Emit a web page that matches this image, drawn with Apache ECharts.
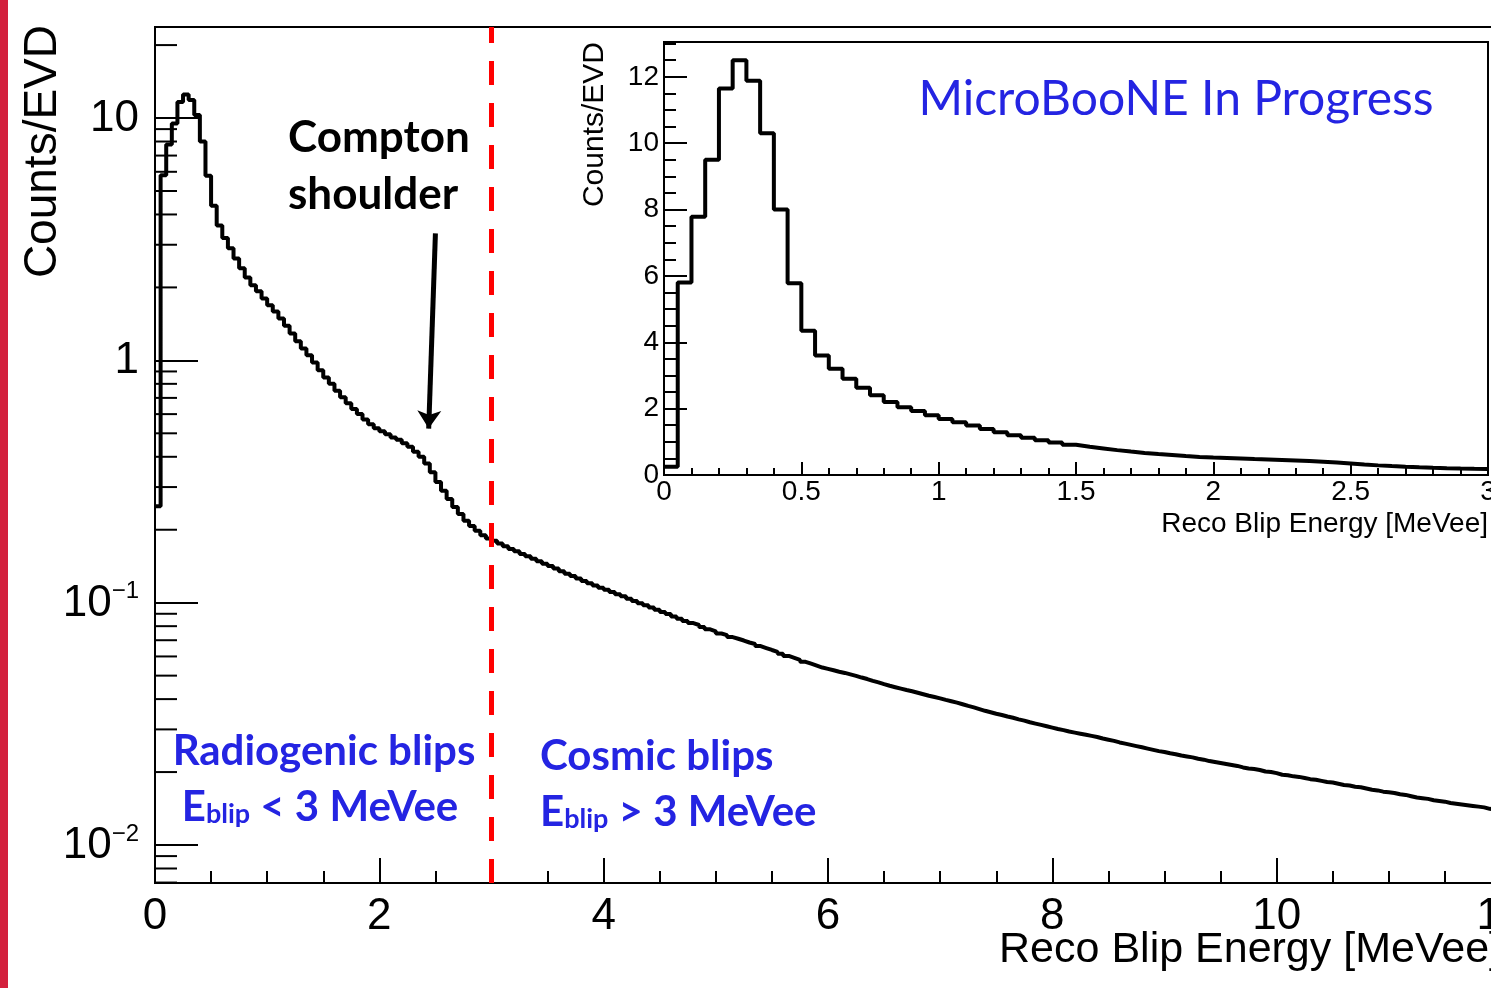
<!DOCTYPE html>
<html>
<head>
<meta charset="utf-8">
<title>Reco Blip Energy</title>
<script src="https://cdn.jsdelivr.net/npm/echarts@6/dist/echarts.min.js"></script>
<style>
  html, body { margin: 0; padding: 0; background: #fff; }
  #chart { width: 1491px; height: 988px; }
</style>
</head>
<body>
<div id="chart"></div>
<script>
// Counts/EVD per 0.05 MeVee bin, 0 - 12 MeVee
const binWidth = 0.05;
const counts = [
  0.25, 5.8, 7.78, 9.5, 11.65, 12.5, 11.88, 10.3, 8.0, 5.78,
  4.35, 3.6, 3.2, 2.9, 2.63, 2.4, 2.2, 2.04, 1.93, 1.8,
  1.69, 1.59, 1.49, 1.39, 1.29, 1.2, 1.12, 1.05, 0.98, 0.91,
  0.85, 0.8, 0.75, 0.705, 0.665, 0.63, 0.6, 0.57, 0.545, 0.525,
  0.51, 0.495, 0.48, 0.47, 0.455, 0.44, 0.42, 0.4, 0.375, 0.345,
  0.315, 0.29, 0.268, 0.248, 0.232, 0.218, 0.207, 0.198, 0.19, 0.184,
  0.180, 0.1754, 0.171, 0.1667, 0.163, 0.159, 0.1556, 0.1517, 0.1483, 0.1449,
  0.1416, 0.1384, 0.1349, 0.1318, 0.1288, 0.1259, 0.1230, 0.1202, 0.1178, 0.1153,
  0.1130, 0.1107, 0.1084, 0.1062, 0.1038, 0.1016, 0.0995, 0.0975, 0.0955, 0.0935,
  0.0916, 0.0897, 0.0877, 0.0859, 0.0841, 0.0824, 0.0809, 0.0793, 0.0776, 0.0762,
  0.0746, 0.0735, 0.0721, 0.0710, 0.0698, 0.0685, 0.0675, 0.0662, 0.0650, 0.0638,
  0.0627, 0.0615, 0.0603, 0.0592, 0.0581, 0.0570, 0.0560, 0.0550, 0.0540, 0.0533,
  0.0526, 0.0519, 0.0513, 0.0506, 0.0499, 0.0491, 0.0484, 0.0476, 0.0469, 0.0461,
  0.0454, 0.0448, 0.0442, 0.0436, 0.0431, 0.0425, 0.0419, 0.0413, 0.0408, 0.0403,
  0.0397, 0.0392, 0.0387, 0.0381, 0.0375, 0.0370, 0.0364, 0.0358, 0.0353, 0.0348,
  0.0344, 0.0339, 0.0335, 0.0330, 0.0326, 0.0321, 0.0317, 0.0313, 0.0309, 0.0305,
  0.0301, 0.0298, 0.0294, 0.0291, 0.0288, 0.0285, 0.0282, 0.0279, 0.0275, 0.0272,
  0.0269, 0.0265, 0.0262, 0.0259, 0.0256, 0.0253, 0.0250, 0.0247, 0.0244, 0.0242,
  0.0239, 0.0237, 0.0234, 0.0232, 0.0230, 0.0227, 0.0225, 0.0222, 0.0220, 0.0218,
  0.0216, 0.0214, 0.0212, 0.0209, 0.0207, 0.0206, 0.0204, 0.0201, 0.0200, 0.0198,
  0.0195, 0.0194, 0.0192, 0.0191, 0.0189, 0.0187, 0.0186, 0.0184, 0.0182, 0.0181,
  0.0179, 0.0177, 0.0176, 0.0174, 0.0173, 0.0171, 0.0169, 0.0168, 0.0166, 0.0165,
  0.0164, 0.0162, 0.0161, 0.0159, 0.0157, 0.0156, 0.0155, 0.0153, 0.0152, 0.0151,
  0.0149, 0.0148, 0.0147, 0.0146, 0.0145, 0.0144, 0.0143, 0.0141, 0.0140, 0.0139
];

// main log axis
const yMin = 0.00697;
const yMax = 23.75;
const yTickValues = [0.01, 0.1, 1, 10];
const yTickLabels = ['{b|10}{s|\u22122}', '{b|10}{s|\u22121}', '{b|1}', '{b|10}'];

// inset
const insetBins = 60; // 0 - 3 MeVee
const insetYMax = 13.05;

// annotations
const cutEnergy = 3;
const arrowFrom = [2.5, 3.34];
const arrowTo = [2.44, 0.523];

const rootFont = '"Liberation Sans", Arial, Helvetica, sans-serif';
const noteFont = 'Lato, "Open Sans", sans-serif';
const blue = '#2424e2';

// bin edges -> step points
function stepPoints(vals) {
  const pts = vals.map((v, i) => [+(i * binWidth).toFixed(2), v]);
  pts.push([+(vals.length * binWidth).toFixed(2), vals[vals.length - 1]]);
  return pts;
}

// minor ticks of the log axis (2..9 x 10^n)
const yMinorTicks = [];
for (let e = -3; e <= 1; e++) {
  for (let m = 2; m <= 9; m++) {
    const v = +(m * Math.pow(10, e)).toPrecision(3);
    if (v > yMin && v < yMax) yMinorTicks.push(v);
  }
}

const black = { color: '#000', width: 2 };

const eblipRich = {
  e: { font: 'bold 42px ' + noteFont, fill: blue, lineHeight: 42, verticalAlign: 'top' },
  sub: { font: 'bold 27px ' + noteFont, fill: blue, lineHeight: 27, verticalAlign: 'bottom', padding: [20, 0, 0, 0] }
};

let myChart = echarts.init(document.getElementById('chart'));
myChart.setOption({
  animation: false,
  backgroundColor: '#fff',
  grid: [
    {
      left: 155, top: 27, width: 1346, height: 856,
      show: true, borderColor: '#000', borderWidth: 2,
      containLabel: false, outerBoundsMode: 'none'
    },
    {
      left: 664, top: 42, width: 824, height: 433,
      show: true, backgroundColor: '#fff', borderColor: '#000', borderWidth: 2,
      containLabel: false, outerBoundsMode: 'none'
    }
  ],
  xAxis: [
    {
      gridIndex: 0, type: 'value', min: 0, max: 12, interval: 2,
      axisLine: { show: true, onZero: false, lineStyle: black },
      axisTick: { show: true, inside: true, length: 25, lineStyle: black },
      minorTick: { show: true, splitNumber: 4, length: 12, lineStyle: black },
      splitLine: { show: false },
      axisLabel: { fontFamily: rootFont, fontSize: 44, color: '#000', margin: 12 }
    },
    {
      gridIndex: 1, type: 'value', min: 0, max: 3, interval: 0.5,
      axisLine: { show: true, onZero: false, lineStyle: black },
      axisTick: { show: true, inside: true, length: 13, lineStyle: black },
      minorTick: { show: true, splitNumber: 5, length: 7, lineStyle: black },
      splitLine: { show: false },
      axisLabel: { fontFamily: rootFont, fontSize: 28, color: '#000', margin: 3 }
    }
  ],
  yAxis: [
    {
      gridIndex: 0, type: 'log', logBase: 10, min: yMin, max: yMax,
      axisLine: { show: true, onZero: false, lineStyle: black },
      axisTick: { show: true, inside: true, length: 43, lineStyle: black },
      splitLine: { show: false },
      axisLabel: {
        margin: 16,
        showMinLabel: false,
        showMaxLabel: false,
        formatter: function (v) {
          const i = yTickValues.findIndex(t => Math.abs(Math.log10(v) - Math.log10(t)) < 1e-6);
          return i >= 0 ? yTickLabels[i] : '';
        },
        rich: {
          b: { fontFamily: rootFont, fontSize: 44, lineHeight: 46, color: '#000', verticalAlign: 'bottom' },
          s: { fontFamily: rootFont, fontSize: 24, lineHeight: 24, color: '#000', verticalAlign: 'top' }
        }
      }
    },
    {
      gridIndex: 1, type: 'value', min: 0, max: insetYMax, interval: 2,
      axisLine: { show: true, onZero: false, lineStyle: black },
      axisTick: { show: true, inside: true, length: 23, lineStyle: black },
      minorTick: { show: true, splitNumber: 4, length: 12, lineStyle: black },
      splitLine: { show: false },
      axisLabel: { fontFamily: rootFont, fontSize: 28, color: '#000', margin: 5, showMaxLabel: false }
    }
  ],
  series: [
    {
      // main histogram
      type: 'line', xAxisIndex: 0, yAxisIndex: 0,
      step: 'end', showSymbol: false, silent: true,
      data: stepPoints(counts),
      lineStyle: { color: '#000', width: 4 },
      markLine: {
        silent: true, symbol: 'none', animation: false,
        label: { show: false },
        lineStyle: { color: '#ff0000', width: 5, type: [24, 18] },
        data: [{ xAxis: cutEnergy }]
      }
    },
    {
      // Compton shoulder arrow
      type: 'line', xAxisIndex: 0, yAxisIndex: 0, data: [], silent: true,
      markLine: {
        silent: true, animation: false,
        symbol: ['none', 'arrow'], symbolSize: 18,
        label: { show: false },
        lineStyle: { color: '#000', width: 5, type: 'solid' },
        data: [[{ coord: arrowFrom }, { coord: arrowTo }]]
      }
    },
    {
      // log minor ticks
      type: 'custom', xAxisIndex: 0, yAxisIndex: 0, silent: true,
      data: yMinorTicks.map(v => [0, v]),
      renderItem: function (params, api) {
        const p = api.coord([0, api.value(1)]);
        return {
          type: 'line',
          shape: { x1: p[0], y1: p[1], x2: p[0] + 22, y2: p[1] },
          style: { stroke: '#000', lineWidth: 2 }
        };
      }
    },
    {
      // inset histogram 0 - 3 MeVee
      type: 'line', xAxisIndex: 1, yAxisIndex: 1,
      step: 'end', showSymbol: false, silent: true,
      data: stepPoints(counts.slice(0, insetBins)),
      lineStyle: { color: '#000', width: 4 }
    }
  ],
  graphic: [
    { type: 'rect', shape: { x: 0, y: 0, width: 8, height: 988 }, style: { fill: '#d3203d' } },
    // axis titles
    { type: 'text', x: 43, y: 25, rotation: Math.PI / 2,
      style: { text: 'Counts/EVD', font: '46px ' + rootFont, fill: '#000', align: 'right', verticalAlign: 'middle' } },
    { type: 'text', x: 1501, y: 950,
      style: { text: 'Reco Blip Energy [MeVee]', font: '43px ' + rootFont, fill: '#000', align: 'right', verticalAlign: 'middle' } },
    { type: 'text', x: 595, y: 42, rotation: Math.PI / 2,
      style: { text: 'Counts/EVD', font: '30px ' + rootFont, fill: '#000', align: 'right', verticalAlign: 'middle' } },
    { type: 'text', x: 1488, y: 524,
      style: { text: 'Reco Blip Energy [MeVee]', font: '28px ' + rootFont, fill: '#000', align: 'right', verticalAlign: 'middle' } },
    // notes
    { type: 'text', x: 288, y: 138,
      style: { text: 'Compton', font: 'bold 44px ' + noteFont, fill: '#000', align: 'left', verticalAlign: 'middle' } },
    { type: 'text', x: 288, y: 195,
      style: { text: 'shoulder', font: 'bold 44px ' + noteFont, fill: '#000', align: 'left', verticalAlign: 'middle' } },
    { type: 'text', x: 1176, y: 100,
      style: { text: 'MicroBooNE In Progress', font: '48px ' + noteFont, fill: blue, align: 'center', verticalAlign: 'middle' } },
    { type: 'text', x: 324, y: 751,
      style: { text: 'Radiogenic blips', font: 'bold 42px ' + noteFont, fill: blue, align: 'center', verticalAlign: 'middle' } },
    { type: 'text', x: 320, y: 807,
      style: { text: '{e|E}{sub|blip}{e| < 3 MeVee}', align: 'center', verticalAlign: 'middle', rich: eblipRich } },
    { type: 'text', x: 540, y: 756,
      style: { text: 'Cosmic blips', font: 'bold 42px ' + noteFont, fill: blue, align: 'left', verticalAlign: 'middle' } },
    { type: 'text', x: 540, y: 812,
      style: { text: '{e|E}{sub|blip}{e| > 3 MeVee}', align: 'left', verticalAlign: 'middle', rich: eblipRich } }
  ]
});
</script>
</body>
</html>
